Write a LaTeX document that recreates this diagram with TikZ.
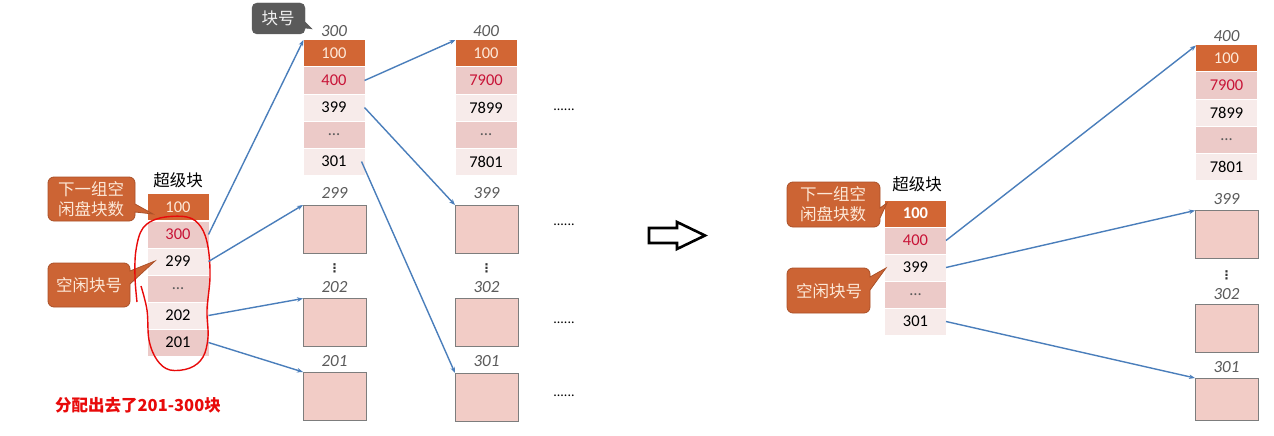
\documentclass[tikz,border=0pt]{standalone}
\usepackage{fontspec}
\setmainfont{Carlito}
\newfontfamily\cjk{Noto Sans CJK SC}
\newfontfamily\djv{DejaVu Sans}
\usetikzlibrary{arrows.meta}
\definecolor{hdr}{RGB}{210,102,52}
\definecolor{cream}{RGB}{253,233,217}
\definecolor{pinkdk}{RGB}{236,202,200}
\definecolor{pinklt}{RGB}{247,235,234}
\definecolor{boxfill}{RGB}{242,204,198}
\definecolor{boxline}{RGB}{125,125,125}
\definecolor{lblgray}{RGB}{90,90,90}
\definecolor{linkblue}{RGB}{74,126,187}
\definecolor{callor}{RGB}{204,100,52}
\definecolor{callbd}{RGB}{170,80,40}
\definecolor{calltxt}{RGB}{252,232,215}
\definecolor{darkcall}{RGB}{90,90,90}
\definecolor{cellred}{RGB}{200,20,55}
\definecolor{brightred}{RGB}{232,10,10}
\begin{document}
\begin{tikzpicture}[x=1pt,y=-1pt,
  cell/.style={minimum width=61pt,minimum height=26pt,inner sep=0pt,outer sep=0pt,font=\fontsize{16.5}{16.5}\selectfont},
  hdrcell/.style={cell,fill=hdr,text=cream},
  dk/.style={cell,fill=pinkdk},
  lt/.style={cell,fill=pinklt},
  blk/.style={draw=boxline,fill=boxfill,line width=0.8pt,minimum width=63pt,minimum height=48pt,inner sep=0pt,outer sep=0pt},
  lbl/.style={text=lblgray,font=\fontsize{17}{17}\selectfont\itshape},
  vdots/.style={text=black!80,font=\djv\bfseries\fontsize{12}{12}\selectfont},
  more/.style={text=black,font=\fontsize{14}{14}\selectfont},
  link/.style={draw=linkblue,line width=1.4pt,-{Stealth[length=6pt,width=4.5pt]}},
  callout/.style={fill=callor,draw=callbd,line width=0.8pt},
  calltext/.style={text=calltxt,font=\cjk\fontsize{16.5}{19.5}\selectfont,align=center,inner sep=0pt},
  title/.style={text=black,font=\cjk\fontsize{16.5}{16.5}\selectfont},
  loop/.style={draw=brightred,line width=1.4pt}]
\useasboundingbox (0,0) rectangle (1274,436);
\fill[white] (0,0) rectangle (1274,436);

% ---------- left superblock ----------
\node[title] (tL) at (178,180) {超级块};
\node[hdrcell] (sbL0) at (178,207) {100};
\node[dk,text=cellred] (sbL1) at (178,234.5) {300};
\node[lt] (sbL2) at (178,261.5) {299};
\node[dk,text=lblgray] (sbL3) at (178,288.5) {…};
\node[lt] (sbL4) at (178,315.5) {202};
\node[dk] (sbL5) at (178,342.5) {201};

% callouts left
\draw[callout] [rounded corners=6pt] (135,200) -- (135,177) -- (48,177) -- (48,221) -- (135,221) [sharp corners]-- (135,212) -- (153,214) -- (135,204) -- cycle;
\node[calltext] (coL1) at (91,199) {下一组空\\闲盘块数};
\draw[callout] [rounded corners=6pt] (130,284) -- (130,307) -- (48,307) -- (48,263) -- (130,263) [sharp corners] -- (130,271) -- (155,261) -- (130,284) -- cycle;
\node[calltext] (coL2) at (89,285) {空闲块号};

% red loop
\draw[loop] plot[smooth,tension=0.6] coordinates {(137,302) (135,277) (136,250) (143,228) (160,218) (187,217) (201,227) (208,247) (210,277) (207,310) (208,337) (203,357) (190,368) (170,370) (157,360) (149,340) (147,310) (141,286)};

\node[text=brightred,font=\cjk\bfseries\fontsize{16.5}{16.5}\selectfont] (note) at (138,405) {分配出去了201-300块};

% ---------- column 300 ----------
\draw[fill=darkcall,draw=darkcall,rounded corners=5pt] (305,20) -- (305,3) -- (252,3) -- (252,34) -- (305,34) [sharp corners] -- (305,28) -- (312,29) -- (305,22) -- cycle;
\node[text=white!90!gray,font=\cjk\fontsize{16.5}{16.5}\selectfont] (cokh) at (278,18.5) {块号};
\node[lbl] (lA) at (334,31) {300};
\node[hdrcell] (cA0) at (334,53) {100};
\node[dk,text=cellred] (cA1) at (334,80.5) {400};
\node[lt] (cA2) at (334,107.5) {399};
\node[dk,text=lblgray] (cA3) at (334,134.5) {…};
\node[lt] (cA4) at (334,161.5) {301};

% ---------- column 400 ----------
\node[lbl] (lB) at (486,31) {400};
\node[hdrcell] (cB0) at (486,53) {100};
\node[dk,text=cellred] (cB1) at (486,80.5) {7900};
\node[lt] (cB2) at (486,107.5) {7899};
\node[dk,text=lblgray] (cB3) at (486,134.5) {…};
\node[lt] (cB4) at (486,161.5) {7801};

% lower blocks, first column
\node[lbl] (lA1) at (334.5,193) {299};
\node[blk] (bA1) at (334.5,229) {};
\node[vdots] (vA) at (334.5,268) {⋮};
\node[lbl] (lA2) at (334.5,287) {202};
\node[blk] (bA2) at (334.5,322.5) {};
\node[lbl] (lA3) at (334.5,361) {201};
\node[blk] (bA3) at (334.5,396) {};

% lower blocks, second column
\node[lbl] (lB1) at (486.5,193) {399};
\node[blk] (bB1) at (486.5,229) {};
\node[vdots] (vB) at (486.5,268) {⋮};
\node[lbl] (lB2) at (486.5,287) {302};
\node[blk] (bB2) at (486.5,322.5) {};
\node[lbl] (lB3) at (486.5,361) {301};
\node[blk] (bB3) at (486.5,397) {};

\node[more] (m1) at (564,110) {......};
\node[more] (m2) at (564,225) {......};
\node[more] (m3) at (564,323) {......};
\node[more] (m4) at (564,396) {......};

% links left
\draw[link] (sbL1.east) -- (cA0.north west);
\draw[link] (sbL2.east) -- (bA1.north west);
\draw[link] (sbL4.east) -- (bA2.north west);
\draw[link] (sbL5.east) -- (bA3.north west);
\draw[link] (cA1.east) -- (cB0.north west);
\draw[link] (cA2.east) -- (bB1.north west);
\draw[link] ([xshift=-3pt]cA4.east) -- (bB3.north west);

% hollow arrow
\draw[line width=2.6pt,line join=miter] (649,228) -- (677,228) -- (677,222) -- (705,235.5) -- (677,249) -- (677,243) -- (649,243) -- cycle;

% ---------- right superblock ----------
\node[title] (tR) at (917,184) {超级块};
\node[hdrcell,text=white,font=\fontsize{16.5}{16.5}\selectfont\bfseries] (sbR0) at (915.5,213.5) {100};
\node[dk,text=cellred] (sbR1) at (915.5,240.5) {400};
\node[lt] (sbR2) at (915.5,267.5) {399};
\node[dk,text=lblgray] (sbR3) at (915.5,294.5) {…};
\node[lt] (sbR4) at (915.5,321.5) {301};

\draw[callout] [rounded corners=6pt] (880,200) -- (880,182) -- (787,182) -- (787,227) -- (880,227) [sharp corners] -- (880,218) -- (887,203) -- (880,208) -- cycle;
\node[calltext] (coR1) at (833,204) {下一组空\\闲盘块数};
\draw[callout] [rounded corners=6pt] (870,290) -- (870,313) -- (787,313) -- (787,268) -- (870,268) [sharp corners] -- (870,277) -- (886,268) -- (870,290) -- cycle;
\node[calltext] (coR2) at (829,291) {空闲块号};

% right column 400
\node[lbl] (lR) at (1226.5,36) {400};
\node[hdrcell] (cR0) at (1226.5,58.5) {100};
\node[dk,text=cellred] (cR1) at (1226.5,85.5) {7900};
\node[lt] (cR2) at (1226.5,112.5) {7899};
\node[dk,text=lblgray] (cR3) at (1226.5,139.5) {…};
\node[lt] (cR4) at (1226.5,166.5) {7801};

\node[lbl] (lR1) at (1226.5,199) {399};
\node[blk] (bR1) at (1226.5,234.5) {};
\node[vdots] (vR) at (1226.5,275) {⋮};
\node[lbl] (lR2) at (1226.5,294) {302};
\node[blk] (bR2) at (1226.5,328.5) {};
\node[lbl] (lR3) at (1226.5,367) {301};
\node[blk,minimum height=42pt] (bR3) at (1226.5,399) {};

\draw[link] (sbR1.east) -- (cR0.north west);
\draw[link] (sbR2.east) -- (bR1.north west);
\draw[link] (sbR4.east) -- (bR3.north west);
\end{tikzpicture}
\end{document}
